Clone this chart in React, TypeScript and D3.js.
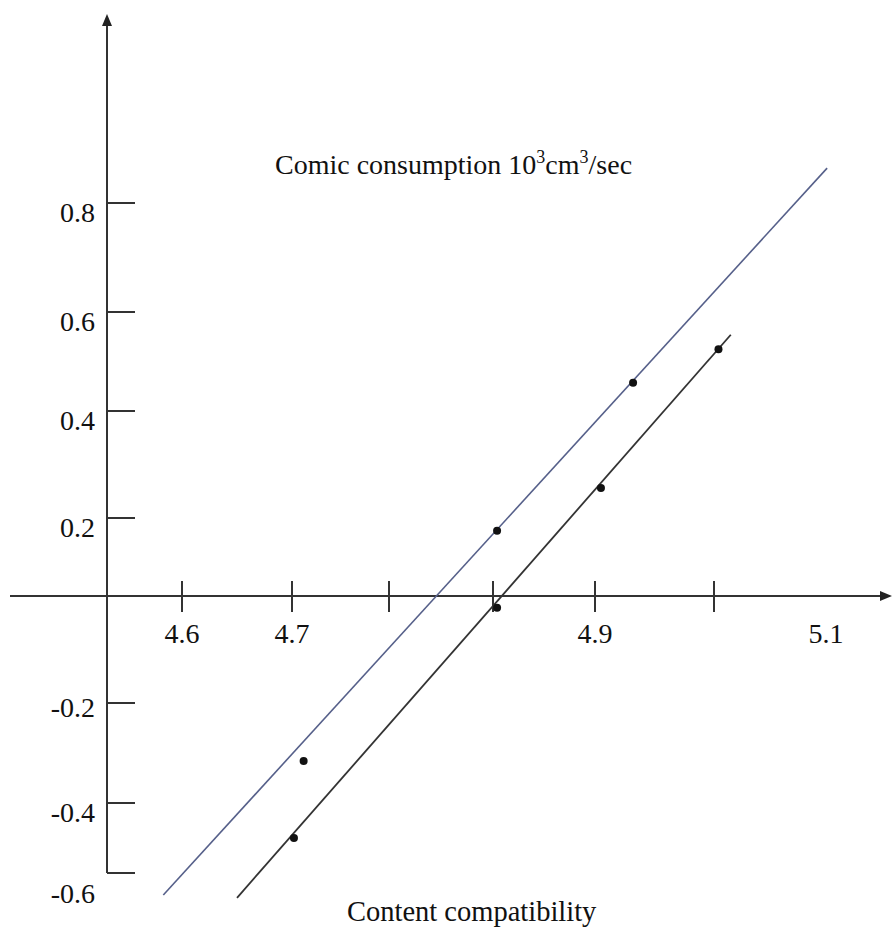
import React, { useRef, useEffect } from 'react';
import * as d3 from 'd3';

// axis breakpoints (the printed axes are not evenly spaced)
const X_BREAKS = [4.6, 4.7, 4.8, 4.85, 4.9, 5.0, 5.1];
const Y_BREAKS = [-0.6, -0.4, -0.2, 0, 0.2, 0.4, 0.6, 0.8];

const X_TICKS = [4.6, 4.7, 4.8, 4.85, 4.9, 5.0];
const X_LABELS = [
  { v: 4.6, t: '4.6' },
  { v: 4.7, t: '4.7' },
  { v: 4.9, t: '4.9' },
  { v: 5.1, t: '5.1' },
];
const Y_TICKS = [0.8, 0.6, 0.4, 0.2, -0.2, -0.4, -0.6];
const Y_LABELS = ['0.8', '0.6', '0.4', '0.2', '-0.2', '-0.4', '-0.6'];

// measured points
const BLUE_X = [4.712, 4.852, 4.932];
const BLUE_Y = [-0.316, 0.167, 0.457];
const BLACK_X = [4.702, 4.852, 4.905, 5.004];
const BLACK_Y = [-0.5, -0.022, 0.256, 0.525];

// fitted lines (end points)
const BLUE_LINE_X = [4.583, 5.101];
const BLUE_LINE_Y = [-0.663, 0.864];
const BLACK_LINE_X = [4.65, 5.015];
const BLACK_LINE_Y = [-0.671, 0.554];

const W = 892;
const H = 927;
const FONT = '"Liberation Serif", "Times New Roman", serif';

export default function App() {
  const svgRef = useRef<SVGSVGElement>(null);

  useEffect(() => {
    if (!svgRef.current) return;
    const svg = d3.select(svgRef.current);
    svg.selectAll('*').remove();

    const x = d3.scaleLinear().domain(X_BREAKS).range([182, 292, 389, 493, 595, 714, 826]);
    const y = d3.scaleLinear().domain(Y_BREAKS).range([873, 803, 703, 596, 518, 411, 312, 203]);

    const axisX = 107;
    const y0 = y(0);
    const axisColor = '#333';

    // y axis + arrow
    svg.append('line')
      .attr('x1', axisX).attr('x2', axisX)
      .attr('y1', 22).attr('y2', y(-0.6))
      .attr('stroke', axisColor).attr('stroke-width', 2);
    svg.append('path')
      .attr('d', `M${axisX},14 L${axisX - 5},26 L${axisX + 5},26 Z`)
      .attr('fill', '#222');

    // x axis + arrow
    svg.append('line')
      .attr('x1', 10).attr('x2', 884)
      .attr('y1', y0).attr('y2', y0)
      .attr('stroke', axisColor).attr('stroke-width', 2);
    svg.append('path')
      .attr('d', `M${W},${y0} L${W - 12},${y0 - 5} L${W - 12},${y0 + 5} Z`)
      .attr('fill', '#222');

    // y ticks
    Y_TICKS.forEach((v, i) => {
      svg.append('line')
        .attr('x1', axisX).attr('x2', axisX + 28)
        .attr('y1', y(v)).attr('y2', y(v))
        .attr('stroke', axisColor).attr('stroke-width', 2);
      svg.append('text')
        .attr('x', 95)
        .attr('y', y(v) + (v === -0.6 ? 30 : v === -0.2 ? 14 : 19))
        .attr('text-anchor', 'end')
        .attr('font-family', FONT)
        .attr('font-size', 28)
        .attr('fill', '#111')
        .text(Y_LABELS[i]);
    });

    // x ticks
    X_TICKS.forEach((v) => {
      svg.append('line')
        .attr('x1', x(v)).attr('x2', x(v))
        .attr('y1', y0 - 15).attr('y2', y0 + 16)
        .attr('stroke', axisColor).attr('stroke-width', 2);
    });
    X_LABELS.forEach((d) => {
      svg.append('text')
        .attr('x', x(d.v))
        .attr('y', y0 + 47)
        .attr('text-anchor', 'middle')
        .attr('font-family', FONT)
        .attr('font-size', 28)
        .attr('fill', '#111')
        .text(d.t);
    });

    // lines
    const line = d3.line<[number, number]>()
      .x((d) => x(d[0]))
      .y((d) => y(d[1]));

    svg.append('path')
      .attr('d', line(d3.zip(BLUE_LINE_X, BLUE_LINE_Y) as [number, number][]))
      .attr('stroke', '#56608a')
      .attr('stroke-width', 1.6)
      .attr('fill', 'none');
    svg.append('path')
      .attr('d', line(d3.zip(BLACK_LINE_X, BLACK_LINE_Y) as [number, number][]))
      .attr('stroke', '#333')
      .attr('stroke-width', 1.8)
      .attr('fill', 'none');

    // points
    const pts = [
      ...d3.zip(BLUE_X, BLUE_Y),
      ...d3.zip(BLACK_X, BLACK_Y),
    ];
    svg.selectAll('.pt')
      .data(pts)
      .enter()
      .append('circle')
      .attr('class', 'pt')
      .attr('cx', (d) => x(d[0]))
      .attr('cy', (d) => y(d[1]))
      .attr('r', 4)
      .attr('fill', '#111');

    // title
    const title = svg.append('text')
      .attr('x', 275)
      .attr('y', 174)
      .attr('font-family', FONT)
      .attr('font-size', 28)
      .attr('fill', '#111');
    title.append('tspan').text('Comic consumption 10');
    title.append('tspan').attr('font-size', 18).attr('dy', -11).text('3');
    title.append('tspan').attr('dy', 11).text('cm');
    title.append('tspan').attr('font-size', 18).attr('dy', -11).text('3');
    title.append('tspan').attr('dy', 11).text('/sec');

    // x label
    svg.append('text')
      .attr('x', 347)
      .attr('y', 921)
      .attr('font-family', FONT)
      .attr('font-size', 28.5)
      .attr('fill', '#111')
      .text('Content compatibility');
  }, []);

  return (
    <svg
      ref={svgRef}
      width={W}
      height={H}
      style={{ position: 'absolute', left: 0, top: 0, display: 'block', background: '#fff' }}
    />
  );
}
